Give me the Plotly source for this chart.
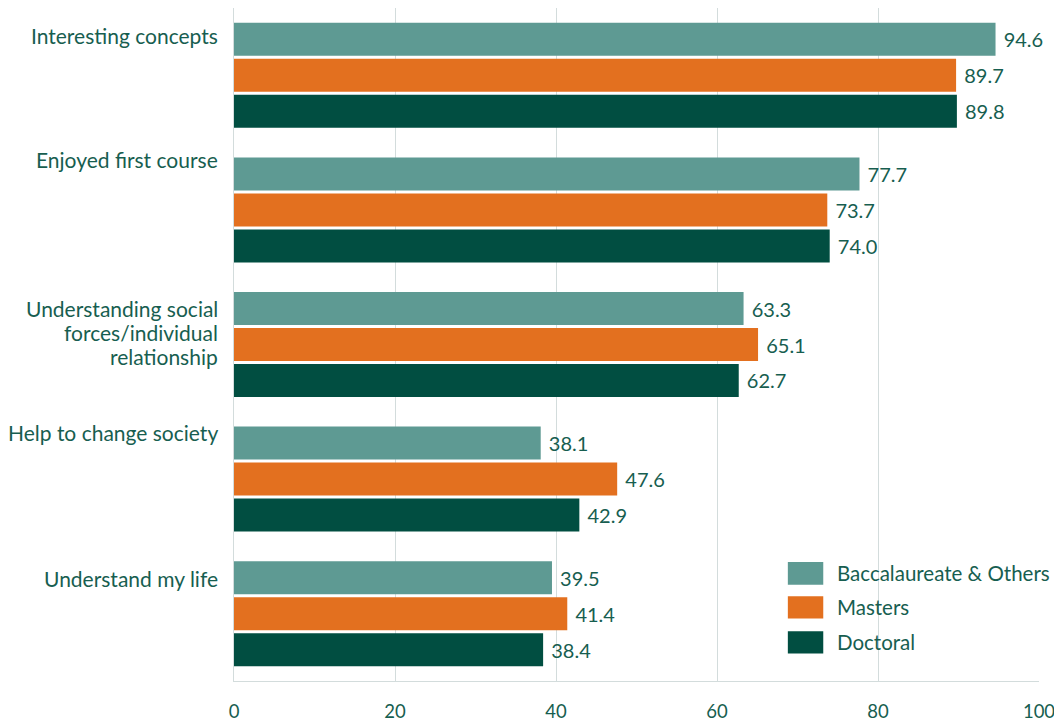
import plotly.graph_objects as go

categories = [
    "Interesting concepts",
    "Enjoyed first course",
    "Understanding social<br>forces/individual<br>relationship",
    "Help to change society",
    "Understand my life",
]
series_names = ["Baccalaureate & Others", "Masters", "Doctoral"]
baccalaureate = [94.6, 77.7, 63.3, 38.1, 39.5]
masters = [89.7, 73.7, 65.1, 47.6, 41.4]
doctoral = [89.8, 74.0, 62.7, 42.9, 38.4]
x_ticks = [0, 20, 40, 60, 80, 100]

colors = ["#5e9a93", "#e3701f", "#014e41"]
text_color = "#175e50"
grid_color = "#d3dcdc"
font_family = "Lato, 'Open Sans', sans-serif"

fig = go.Figure()
for name, vals, col in zip(series_names, [baccalaureate, masters, doctoral], colors):
    fig.add_trace(go.Bar(
        y=categories, x=vals, name=name, orientation="h",
        marker=dict(color=col, line=dict(width=0)),
        text=[f"\u00a0{v:.1f}" for v in vals], textposition="outside",
        textfont=dict(color=text_color, size=20, family=font_family),
        cliponaxis=False, showlegend=False,
    ))

# category labels sit beside the upper part of each bar group;
# pixel lift of each label block's centre above the category centre
label_lift = [40, 50, 12, 47, 35]
line_step = 24
for c, lift in zip(categories, label_lift):
    lines = c.split("<br>")
    mid = (len(lines) - 1) / 2
    for k, line in enumerate(lines):
        fig.add_annotation(
            x=0, xref="paper", y=c, yref="y", xanchor="right", yanchor="middle",
            xshift=-14, yshift=lift - (k - mid) * line_step, text=line,
            showarrow=False, align="right",
            font=dict(color=text_color, size=21, family=font_family),
        )

# legend swatches and labels
legend_rows = [(0.177, 0.143), (0.126, 0.093), (0.074, 0.041)]
for (y1, y0), name, col in zip(legend_rows, series_names, colors):
    fig.add_shape(type="rect", xref="paper", yref="paper",
                  x0=0.688, x1=0.732, y0=y0, y1=y1,
                  fillcolor=col, line=dict(width=0))
    fig.add_annotation(x=0.747, y=(y0 + y1) / 2, xref="paper", yref="paper",
                       xanchor="left", yanchor="middle", text=name, showarrow=False,
                       font=dict(color=text_color, size=20.5, family=font_family))

fig.update_layout(
    width=1054, height=725,
    margin=dict(l=234, r=15, t=8, b=44, autoexpand=False),
    paper_bgcolor="white", plot_bgcolor="white",
    barmode="group", bargap=0.198, bargroupgap=0.083,
    font=dict(family=font_family, color=text_color),
    xaxis=dict(
        range=[0, 100], tickvals=x_ticks, showgrid=True, gridcolor=grid_color,
        gridwidth=1, zeroline=False, showline=True, linecolor=grid_color,
        linewidth=1, ticks="", ticklabelstandoff=14, ticklabeloverflow="allow",
        automargin=False,
        tickfont=dict(size=18.5, color=text_color, family=font_family),
    ),
    yaxis=dict(
        autorange="reversed", showticklabels=False, showgrid=False,
        showline=True, linecolor=grid_color, linewidth=1, ticks="",
        zeroline=False, automargin=False,
    ),
)

fig.write_html("out.html")
